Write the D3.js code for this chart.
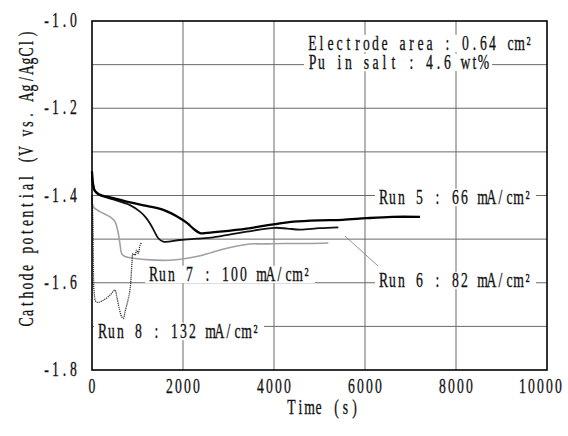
<!DOCTYPE html>
<head>
    <meta charset="utf-8">
    <script src="https://d3js.org/d3.v7.min.js"></script>
</head>
<body style="background: white; margin: 0">
    <div id="my_dataviz"></div>
    <script>
        // time (s), potential (V vs. Ag/AgCl)
        var run5 = [[0, -1.345], [20, -1.372], [60, -1.389], [150, -1.397], [468, -1.406], [835, -1.416],
            [1202, -1.424], [1567, -1.433], [1934, -1.452], [2100, -1.464], [2227, -1.476], [2374, -1.486],
            [2600, -1.485], [2813, -1.483], [3400, -1.476], [3800, -1.469], [4132, -1.464], [4425, -1.460],
            [5000, -1.457], [5500, -1.456], [6037, -1.452], [6600, -1.449], [7209, -1.449]];
        var run6 = [[0, -1.345], [20, -1.372], [60, -1.389], [150, -1.398], [468, -1.409], [835, -1.422],
            [1055, -1.437], [1180, -1.450], [1275, -1.464], [1380, -1.484], [1457, -1.498], [1567, -1.506],
            [1934, -1.502], [2300, -1.499], [2666, -1.496], [3050, -1.489], [3400, -1.483], [4022, -1.474],
            [4300, -1.476], [4571, -1.478], [5000, -1.475], [5414, -1.473]];
        var run7 = [[0, -1.400], [30, -1.426], [176, -1.437], [396, -1.449], [505, -1.460], [578, -1.487],
            [620, -1.515], [652, -1.533], [725, -1.540], [1202, -1.547], [1787, -1.548], [2300, -1.540],
            [2650, -1.530], [3033, -1.519], [3473, -1.511], [3766, -1.511], [4205, -1.510], [4700, -1.510],
            [5194, -1.509]];
        var run8 = [[0, -1.400], [20, -1.460], [30, -1.550], [45, -1.620], [80, -1.642], [130, -1.645],
            [250, -1.640], [400, -1.628], [505, -1.617], [545, -1.632], [590, -1.655], [652, -1.678],
            [690, -1.682], [725, -1.667], [790, -1.640], [835, -1.617], [860, -1.585], [880, -1.552],
            [900, -1.533], [945, -1.537], [981, -1.525], [1018, -1.533], [1055, -1.514], [1091, -1.508]];

        var xTicks = [0, 2000, 4000, 6000, 8000, 10000];
        var yTicks = [-1.8, -1.6, -1.4, -1.2, -1.0];
        var yGrid = [-1.7, -1.6, -1.5, -1.4, -1.3, -1.2, -1.1];

        var margin = { top: 21, right: 21, bottom: 66, left: 92 },
            width = 568 - margin.left - margin.right,
            height = 436 - margin.top - margin.bottom;

        // serif glyphs on a fixed 9px grid, stretched tall like the original mincho face
        var SX = 0.72, SY = 1.05, ADV = 9;
        var FONT = "Liberation Serif";

        var svg = d3.select("#my_dataviz")
            .append("svg")
            .attr("width", 568)
            .attr("height", 436)
            .style("display", "block");

        var g = svg.append("g")
            .attr("transform", "translate(" + margin.left + "," + margin.top + ")");

        var x = d3.scaleLinear().domain([0, 10000]).range([0, width]);
        var y = d3.scaleLinear().domain([-1.8, -1.0]).range([height, 0]);

        function label(parent, px, py, str, anchor, mask, rot) {
            var chars = Array.from(str);
            var a = ADV / SX, n = chars.length;
            var off = anchor === "middle" ? -n * a / 2 : anchor === "end" ? -n * a : 0;
            var lg = parent.append("g")
                .attr("transform", "translate(" + px + "," + py + ")" + (rot ? " rotate(" + rot + ")" : "") +
                    " scale(" + SX + "," + SY + ")");
            if (mask) {
                lg.append("rect")
                    .attr("x", off - 4 / SX).attr("y", -14.5)
                    .attr("width", n * a + 8 / SX).attr("height", 16.5)
                    .attr("fill", "white");
            }
            lg.append("text")
                .attr("x", chars.map((c, i) => (off + i * a + a / 2).toFixed(2)).join(" "))
                .attr("text-anchor", "middle")
                .style("font-family", FONT)
                .style("font-size", "19px")
                .attr("fill", "#111")
                .attr("stroke", "#111")
                .attr("stroke-width", 0.3)
                .text(str);
            return lg;
        }

        // grid
        g.selectAll(".hg").data(yGrid).enter().append("line")
            .attr("x1", 0).attr("x2", width)
            .attr("y1", d => y(d)).attr("y2", d => y(d))
            .attr("stroke", "#6a6a6a").attr("stroke-width", 1);
        g.selectAll(".vg").data(xTicks.slice(1, -1)).enter().append("line")
            .attr("y1", 0).attr("y2", height)
            .attr("x1", d => x(d)).attr("x2", d => x(d))
            .attr("stroke", "#6a6a6a").attr("stroke-width", 1);

        // notes inside plot (white background hides grid)
        label(g, 216, 29, "Electrode area : 0.64 cm²", "start", true);
        label(g, 216, 48, "Pu in salt : 4.6 wt%", "start", true);
        g.append("line")
            .attr("x1", 253).attr("y1", 215).attr("x2", 286).attr("y2", 245)
            .attr("stroke", "#777").attr("stroke-width", 0.8);

        var line = d3.line().x(d => x(d[0])).y(d => y(d[1])).curve(d3.curveCatmullRom.alpha(0.5));

        g.append("path").datum(run7).attr("d", line)
            .attr("fill", "none").attr("stroke", "#a0a0a0").attr("stroke-width", 1.6);
        g.append("path").datum(run8).attr("d", line)
            .attr("fill", "none").attr("stroke", "#333").attr("stroke-width", 1.3)
            .attr("stroke-dasharray", "1.2,0.9");
        g.append("path").datum(run6).attr("d", line)
            .attr("fill", "none").attr("stroke", "#111").attr("stroke-width", 1.8);
        g.append("path").datum(run5).attr("d", line)
            .attr("fill", "none").attr("stroke", "#000").attr("stroke-width", 2.3);

        label(g, 287, 183, "Run 5 : 66 mA/cm²", "start", true);
        label(g, 287, 266, "Run 6 : 82 mA/cm²", "start", true);
        label(g, 57, 260, "Run 7 : 100 mA/cm²", "start", true);
        label(g, 6, 317, "Run 8 : 132 mA/cm²", "start", true);

        // frame
        g.append("rect")
            .attr("width", width).attr("height", height)
            .attr("fill", "none").attr("stroke", "#000").attr("stroke-width", 1.6);

        // tick labels
        xTicks.forEach(function (t, i) {
            var last = i === xTicks.length - 1;
            label(svg, margin.left + x(t) + (last ? 16 : 0), 393, String(t), last ? "end" : "middle");
        });
        yTicks.forEach(function (t) {
            label(svg, 78, margin.top + y(t) + 6, t.toFixed(1).replace("\u2212", "-"), "end");
        });

        label(svg, 323, 414, "Time (s)", "middle");
        label(svg, 33, 178, "Cathode potential (V vs. Ag/AgCl)", "middle", false, -90);
    </script>
</body>
</html>
